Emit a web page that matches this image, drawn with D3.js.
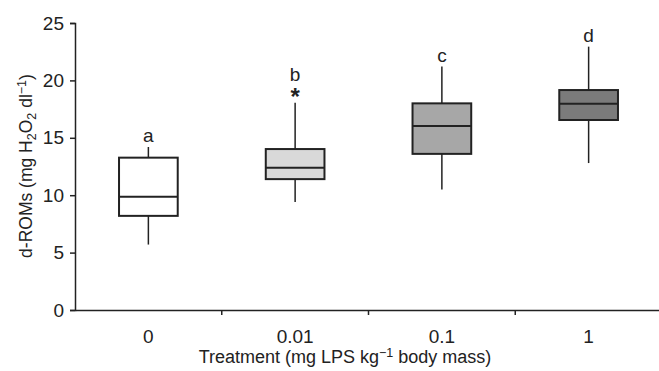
<!DOCTYPE html>
<html>
<head>
<meta charset="utf-8">
<script src="https://cdn.jsdelivr.net/npm/d3@7"></script>
<style>
  body { margin: 0; background: #fff; }
  text { font-family: "Liberation Sans", Arial, sans-serif; fill: #222; }
</style>
</head>
<body>
<div id="chart"></div>
<script>
// data
const treatments = ['0', '0.01', '0.1', '1'];
const whiskerLow = [5.7, 9.4, 10.5, 12.8];
const q1 = [8.2, 11.4, 13.6, 16.55];
const medians = [9.87, 12.4, 16.03, 17.97];
const q3 = [13.27, 14.02, 18.0, 19.16];
const whiskerHigh = [14.2, 18.06, 21.2, 22.94];
const groupLetters = ['a', 'b', 'c', 'd'];
const outlierMarks = ['', '*', '', ''];
const fills = ['#ffffff', '#d9d9d9', '#a7a7a7', '#7b7b7b'];
const yTicks = [0, 5, 10, 15, 20, 25];

const W = 659, H = 371;
const margin = { top: 23, right: -3, bottom: 61, left: 75 };
const width = W - margin.left - margin.right;
const height = H - margin.top - margin.bottom;

const boxes = treatments.map((t, i) => ({
  t, lo: whiskerLow[i], q1: q1[i], med: medians[i], q3: q3[i], hi: whiskerHigh[i],
  letter: groupLetters[i], mark: outlierMarks[i], fill: fills[i]
}));

const svg = d3.select('#chart')
  .append('svg')
  .attr('width', W)
  .attr('height', H);

const g = svg.append('g')
  .attr('transform', `translate(${margin.left},${margin.top})`);

const x = d3.scaleBand().domain(treatments).range([0, width]).paddingInner(0).paddingOuter(0);
const y = d3.scaleLinear().domain([0, 25]).range([height, 0]);

// axes
const yAxis = g.append('g')
  .call(d3.axisLeft(y).tickValues(yTicks).tickSize(5).tickPadding(6));
yAxis.select('.domain').attr('stroke', '#222').attr('stroke-width', 1.5);
yAxis.selectAll('.tick line').attr('stroke', '#222').attr('stroke-width', 1.5);
yAxis.selectAll('.tick text').style('font-size', '19px').attr('fill', '#222');

const xAxis = g.append('g').attr('transform', `translate(0,${height})`)
  .call(d3.axisBottom(x).tickSize(0).tickPadding(19.5));
xAxis.select('.domain').attr('stroke', '#222').attr('stroke-width', 1.5);
xAxis.selectAll('.tick text').style('font-size', '19px').attr('fill', '#222');

// separators between categories
g.append('g').selectAll('line')
  .data(treatments.slice(1))
  .join('line')
  .attr('x1', d => x(d)).attr('x2', d => x(d))
  .attr('y1', height).attr('y2', height + 5)
  .attr('stroke', '#222').attr('stroke-width', 1.5);

const bw = x.bandwidth() * 0.4;
const cx = d => x(d.t) + x.bandwidth() / 2;

const box = g.append('g').selectAll('g')
  .data(boxes)
  .join('g');

box.append('line')
  .attr('x1', cx).attr('x2', cx)
  .attr('y1', d => y(d.hi)).attr('y2', d => y(d.lo))
  .attr('stroke', '#222').attr('stroke-width', 1.5);

box.append('rect')
  .attr('x', d => cx(d) - bw / 2)
  .attr('width', bw)
  .attr('y', d => y(d.q3))
  .attr('height', d => y(d.q1) - y(d.q3))
  .attr('fill', d => d.fill)
  .attr('stroke', '#222').attr('stroke-width', 2);

box.append('line')
  .attr('x1', d => cx(d) - bw / 2).attr('x2', d => cx(d) + bw / 2)
  .attr('y1', d => y(d.med)).attr('y2', d => y(d.med))
  .attr('stroke', '#222').attr('stroke-width', 2);

// asterisk and letters
box.filter(d => d.mark)
  .append('text')
  .attr('x', cx)
  .attr('y', d => y(d.hi) + 2)
  .attr('text-anchor', 'middle')
  .style('font-size', '24px')
  .style('font-weight', 'bold')
  .text(d => d.mark);

box.append('text')
  .attr('x', cx)
  .attr('y', d => y(d.hi) - (d.mark ? 22 : 5))
  .attr('text-anchor', 'middle')
  .style('font-size', '19px')
  .text(d => d.letter);

// axis titles
const xt = svg.append('text')
  .attr('x', 345).attr('y', 363)
  .attr('text-anchor', 'middle')
  .style('font-size', '18px');
xt.append('tspan').text('Treatment (mg LPS kg');
xt.append('tspan').attr('dy', -6).style('font-size', '12.5px').text('−1');
xt.append('tspan').attr('dy', 6).text(' body mass)');

const yt = svg.append('text')
  .attr('transform', 'translate(32,166) rotate(-90)')
  .attr('text-anchor', 'middle')
  .style('font-size', '17.5px');
yt.append('tspan').text('d-ROMs (mg H');
yt.append('tspan').attr('dy', 4).style('font-size', '12.5px').text('2');
yt.append('tspan').attr('dy', -4).text('O');
yt.append('tspan').attr('dy', 4).style('font-size', '12.5px').text('2');
yt.append('tspan').attr('dy', -4).text(' dl');
yt.append('tspan').attr('dy', -6).style('font-size', '12.5px').text('−1');
yt.append('tspan').attr('dy', 6).text(')');
</script>
</body>
</html>
